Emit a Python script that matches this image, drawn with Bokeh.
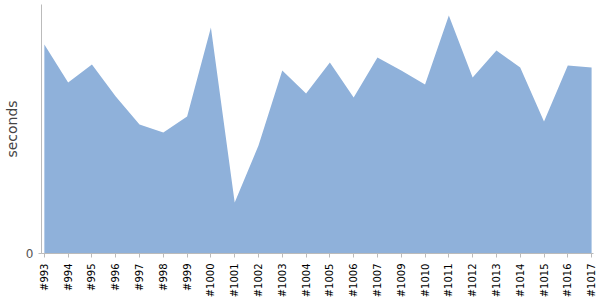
import math
from bokeh.plotting import figure
from bokeh.models import Range1d, FixedTicker
from bokeh.embed import file_html
from bokeh.resources import INLINE

builds = ["#993", "#994", "#995", "#996", "#997", "#998", "#999", "#1000", "#1001",
          "#1002", "#1003", "#1004", "#1005", "#1006", "#1007", "#1009", "#1010",
          "#1011", "#1012", "#1013", "#1014", "#1015", "#1016", "#1017"]
seconds = [209, 171, 189, 157, 129, 121, 137, 226, 51, 108, 183, 160, 191, 156,
           196, 183, 169, 238, 176, 203, 186, 132, 188, 186]

xs = list(range(len(builds)))

p = figure(width=600, height=300, output_backend="svg", toolbar_location=None,
           x_range=Range1d(-0.12, len(builds) - 1 + 0.08), y_range=Range1d(0, 249),
           min_border_left=38, min_border_right=7, min_border_top=4, min_border_bottom=47)

p.varea(x=xs, y1=[0] * len(xs), y2=seconds, fill_color="#8FB1DA", fill_alpha=1.0)

p.xgrid.grid_line_color = None
p.ygrid.grid_line_color = None
p.outline_line_color = None
p.background_fill_color = "white"
p.border_fill_color = "white"

xa = p.xaxis[0]
xa.ticker = FixedTicker(ticks=xs)
xa.major_label_overrides = {i: b for i, b in enumerate(builds)}
xa.major_label_orientation = math.pi / 2
xa.major_label_text_font = "DejaVu Sans"
xa.major_label_text_font_size = "10px"
xa.major_label_text_color = "#000000"
xa.axis_line_color = "#BBBBBB"
xa.major_tick_line_color = "#BBBBBB"
xa.major_tick_in = 0
xa.major_tick_out = 4
xa.minor_tick_line_color = None
xa.major_label_standoff = 6

ya = p.yaxis[0]
ya.ticker = FixedTicker(ticks=[0])
ya.axis_label = "seconds"
ya.axis_label_text_font = "DejaVu Sans"
ya.axis_label_text_font_size = "14px"
ya.axis_label_text_font_style = "normal"
ya.axis_label_text_color = "#444444"
ya.axis_label_standoff = 3
ya.major_label_text_font = "DejaVu Sans"
ya.major_label_text_font_size = "12px"
ya.major_label_text_color = "#555555"
ya.major_label_standoff = 5
ya.axis_line_color = "#BBBBBB"
ya.major_tick_line_color = "#BBBBBB"
ya.major_tick_in = 0
ya.major_tick_out = 3
ya.minor_tick_line_color = None

open("out.html", "w").write(file_html(p, INLINE))
